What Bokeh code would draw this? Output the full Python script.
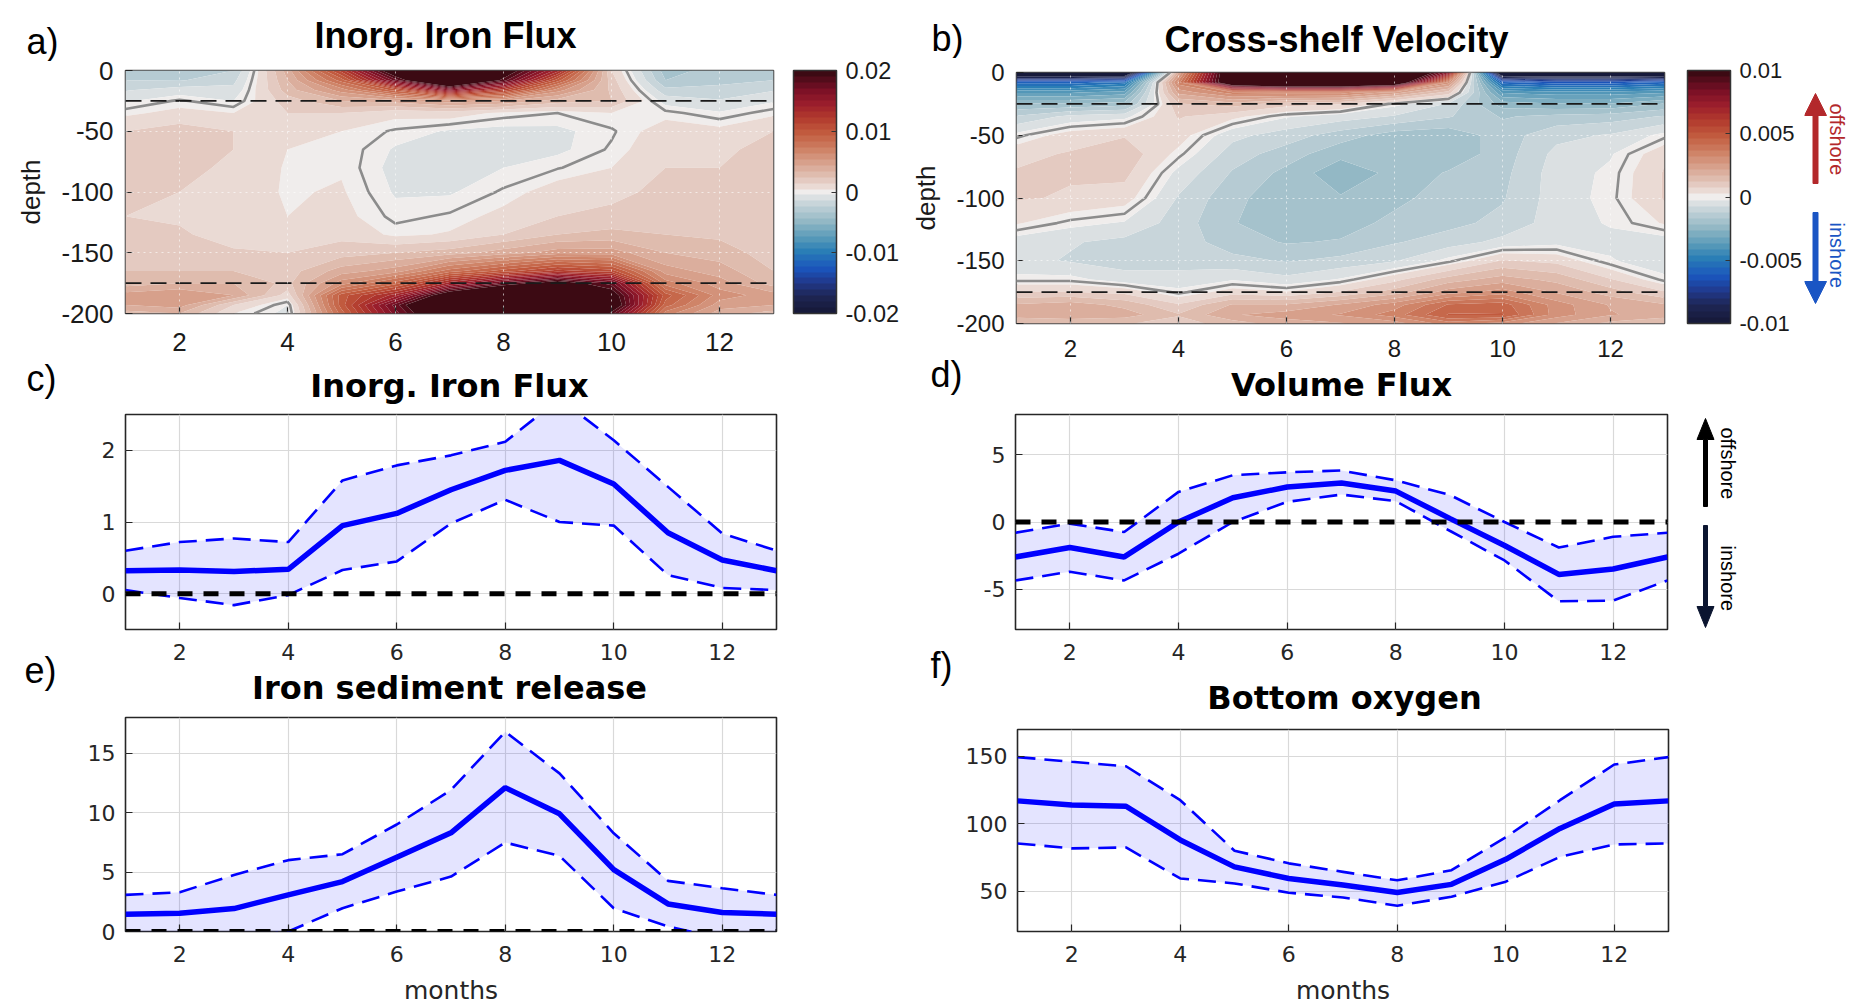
import numpy as np
from bokeh.plotting import figure
from bokeh.models import (ColorBar, LinearColorMapper, FixedTicker, PrintfTickFormatter,
                          Span, Range1d)
from bokeh.core.properties import value
from bokeh.layouts import row, column
from bokeh.embed import file_html
from bokeh.resources import INLINE

# ---------------- data ----------------
months = [1, 2, 3, 4, 5, 6, 7, 8, 9, 10, 11, 12, 13]
month_ticks = [2, 4, 6, 8, 10, 12]
depths = [0, -8, -16, -25, -35, -50, -65, -80, -100, -120, -135, -150, -165, -175, -185, -193, -200]
depth_ticks = [-200, -150, -100, -50, 0]
layer_depths = [-25, -175]

# a) inorganic iron flux section (x 1e-3); rows = depths, columns = months 1..13
iron_flux_section = [
    [-3.0, -3.0, -2.5, 4.0, 12.0, 22.0, 32.0, 21.5, 14.0, 1.5, -4.0, -3.0, -3.0],
    [-2.5, -2.6, -1.8, 3.5, 9.0, 18.0, 26.0, 19.0, 10.0, 2.0, -3.5, -2.8, -2.5],
    [-1.6, -1.0, -1.2, 3.0, 6.0, 10.0, 16.0, 12.0, 6.0, 2.3, -2.2, -2.2, -1.6],
    [-0.6, 0.1, -0.5, 2.0, 3.5, 4.0, 5.0, 4.5, 3.0, 2.5, -0.9, -1.4, -0.6],
    [0.3, 0.8, 0.5, 1.5, 1.5, 0.8, 1.0, 0.3, 0.0, 0.5, 0.2, -0.4, 0.3],
    [1.5, 2.0, 1.5, 1.0, 0.5, -0.1, -0.6, -0.8, -0.7, -0.1, 1.0, 0.8, 1.5],
    [2.0, 2.2, 1.5, 0.5, 0.4, -0.6, -0.9, -0.9, -0.7, 0.1, 1.3, 1.2, 2.0],
    [2.0, 1.8, 1.3, 0.4, 0.4, -0.8, -0.9, -0.5, -0.05, 0.5, 1.5, 1.5, 2.0],
    [1.6, 1.5, 1.0, 0.4, 0.6, -0.6, -0.6, 0.1, 1.0, 1.2, 1.8, 1.8, 1.6],
    [1.5, 1.4, 1.0, 0.5, 0.8, -0.2, 0.1, 0.8, 1.5, 1.8, 2.0, 2.0, 1.5],
    [1.8, 1.6, 1.2, 0.8, 1.2, 0.3, 0.6, 1.5, 2.5, 2.8, 2.5, 2.3, 1.8],
    [2.0, 1.8, 1.6, 1.5, 2.0, 2.5, 3.0, 4.0, 5.0, 5.0, 3.5, 3.0, 2.0],
    [2.5, 2.5, 2.5, 2.0, 4.0, 5.0, 8.0, 10.0, 12.0, 11.0, 5.0, 4.0, 2.5],
    [3.0, 3.5, 3.5, 2.2, 6.0, 9.0, 14.0, 18.0, 21.0, 18.0, 7.0, 5.0, 3.0],
    [5.0, 5.5, 4.5, 1.0, 10.0, 14.0, 22.0, 27.0, 30.0, 21.0, 10.0, 6.0, 5.0],
    [4.5, 5.0, 1.5, -0.5, 10.0, 18.0, 26.0, 32.0, 33.0, 22.0, 9.0, 5.0, 4.5],
    [3.0, 3.5, 0.5, -0.8, 9.0, 17.0, 24.0, 30.0, 30.0, 19.0, 7.0, 4.0, 3.0],
]

# b) cross-shelf velocity section (x 1e-3); rows = depths, columns = months 1..13
velocity_section = [
    [-12, -12, -12, 2.2, 12, 15, 15, 14, 8, -12, -12, -12, -12],
    [-6, -6, -5.5, 3.5, 12, 14, 14, 12, 3, -6, -6.5, -6.5, -6],
    [-3.8, -3.8, -3.5, 2.4, 3.5, 3.5, 3.5, 2.5, 1.0, -3.8, -4, -4, -3.8],
    [-2.2, -2.2, -2.0, 1.2, 1.5, 1.0, 0.8, -0.1, -0.8, -2.5, -2.7, -2.7, -2.2],
    [-1.2, -0.6, -0.4, 0.8, 0.4, -0.2, -0.5, -0.8, -1.2, -1.8, -1.6, -1.5, -1.2],
    [-0.1, 0.5, 0.7, 0.5, -0.6, -1.0, -1.5, -2.0, -2.1, -1.5, -0.9, -0.7, -0.1],
    [0.6, 0.8, 1.1, 0.1, -1.0, -1.5, -2.1, -2.2, -2.1, -1.5, -0.6, -0.3, 0.6],
    [0.8, 0.8, 0.9, -0.4, -1.3, -1.9, -2.6, -2.1, -1.7, -1.4, -0.5, -0.15, 0.8],
    [0.8, 0.7, 0.5, -0.8, -1.6, -2.1, -2.2, -1.9, -1.5, -1.3, -0.5, -0.1, 0.8],
    [0.3, -0.1, -0.3, -1.0, -1.7, -2.2, -2.0, -1.6, -1.4, -1.1, -0.5, -0.2, 0.3],
    [-0.5, -0.7, -0.9, -1.0, -1.5, -1.8, -1.7, -1.3, -1.0, -0.6, -0.4, -0.4, -0.5],
    [-0.6, -0.8, -1.0, -0.9, -1.1, -1.3, -1.1, -0.8, -0.1, 0.8, 0.6, -0.2, -0.6],
    [-0.1, -0.1, -0.5, -0.6, -0.3, -0.6, -0.2, 0.6, 1.5, 2.0, 1.6, 0.8, -0.1],
    [0.8, 0.8, 0.6, -0.1, 0.5, 0.3, 0.8, 1.5, 2.5, 3.0, 2.2, 1.5, 0.8],
    [1.8, 2.0, 1.6, 0.8, 1.8, 1.8, 2.3, 3.0, 4.3, 4.5, 3.0, 2.2, 1.8],
    [2.0, 2.0, 2.0, 1.3, 2.2, 2.5, 2.8, 3.5, 4.8, 4.8, 3.0, 2.3, 2.0],
    [1.3, 1.5, 1.3, 1.0, 1.5, 2.0, 2.2, 2.5, 3.5, 3.0, 2.2, 1.6, 1.3],
]
section_unit = 1e-3

# c) inorganic iron flux
iron_mean = [0.32, 0.33, 0.31, 0.34, 0.95, 1.12, 1.45, 1.72, 1.86, 1.53, 0.85, 0.47, 0.32]
iron_upper = [0.60, 0.72, 0.77, 0.72, 1.58, 1.79, 1.93, 2.12, 2.72, 2.14, 1.49, 0.84, 0.60]
iron_lower = [0.05, -0.06, -0.16, -0.02, 0.33, 0.45, 0.98, 1.31, 1.00, 0.95, 0.26, 0.08, 0.05]
# d) volume flux
vol_mean = [-2.6, -1.9, -2.6, 0.0, 1.8, 2.6, 2.9, 2.3, 0.25, -1.75, -3.9, -3.5, -2.6]
vol_upper = [-0.8, -0.12, -0.75, 2.24, 3.48, 3.7, 3.83, 3.1, 2.0, 0.0, -1.9, -1.1, -0.8]
vol_lower = [-4.35, -3.7, -4.35, -2.36, 0.0, 1.5, 2.04, 1.55, -0.67, -2.86, -5.9, -5.85, -4.35]
# e) iron sediment release
sed_mean = [1.46, 1.54, 1.93, 3.08, 4.2, 6.25, 8.3, 12.1, 9.9, 5.2, 2.32, 1.6, 1.46]
sed_upper = [3.08, 3.3, 4.76, 6.0, 6.5, 9.0, 11.9, 16.8, 13.3, 8.26, 4.26, 3.64, 3.08]
sed_lower = [-0.2, -0.2, -0.6, 0.0, 1.96, 3.36, 4.62, 7.48, 6.36, 1.96, 0.42, -0.6, -0.2]
# f) bottom oxygen
oxy_mean = [117, 114, 113, 88, 68, 59.4, 54.5, 49, 55, 73.6, 96.5, 114.6, 117]
oxy_upper = [149.5, 146, 142.7, 117.5, 80, 70.6, 64.3, 58, 65.5, 90, 117.5, 144, 149.5]
oxy_lower = [85.4, 81.7, 82.4, 59.4, 55.7, 48.8, 45.3, 39.1, 45.8, 57, 75.4, 84.6, 85.4]

# ---------------- styling ----------------
SANS = "Liberation Sans"
DJV = "DejaVu Sans"
BLUE = "#0000ff"
RED_TXT = "#b3282b"
BLUE_TXT = "#1a55c4"

cmap_anchors = [
    (0.000, "#171a3b"), (0.060, "#1e2654"), (0.120, "#213a8e"), (0.180, "#1a55bd"),
    (0.250, "#2a7eb6"), (0.310, "#5b9cb9"), (0.375, "#93b8c5"), (0.440, "#c1d1d7"),
    (0.480, "#dfe2e3"), (0.500, "#f0edec"), (0.520, "#ebddd8"), (0.560, "#e2c4b9"),
    (0.625, "#d7a08b"), (0.690, "#cc7b5e"), (0.750, "#c15a3e"), (0.810, "#b23a2d"),
    (0.870, "#9c1e2c"), (0.930, "#7a1026"), (1.000, "#3c0a13"),
]


def cmap_palette(n):
    ts = np.array([a[0] for a in cmap_anchors])
    rgb = np.array([[int(h[i:i + 2], 16) for i in (1, 3, 5)] for _, h in cmap_anchors], float)
    out = []
    for t in np.linspace(0, 1, n):
        c = [int(round(np.interp(t, ts, rgb[:, k]))) for k in range(3)]
        out.append("#%02x%02x%02x" % tuple(c))
    return out


PAL = cmap_palette(41)


# ---------- text / arrow strips (pixel coordinates, measured from the strip's top) ----------
def strip(width, height):
    p = figure(width=width, height=height, x_range=Range1d(0, width), y_range=Range1d(0, height),
               output_backend="svg", toolbar_location=None, min_border=0,
               x_axis_type=None, y_axis_type=None, frame_align=False)
    p.outline_line_color = None
    return p


def put_text(p, x, baseline, text, font, size, bold=False, align="left", color="black"):
    # anchor at the middle of the em box, placed from the wanted baseline
    ymid = baseline - 0.347 * size
    p.text(x=[x], y=[p.height - ymid], text=[text], text_font=value(font),
           text_font_size=f"{size}px", text_font_style="bold" if bold else "normal",
           text_align=align, text_baseline="middle", text_color=color)


def put_vtext(p, xc, y_start, text, font, size, color="black"):
    p.text(x=[xc], y=[p.height - y_start], text=[text], text_font=value(font),
           text_font_size=f"{size}px", text_align="left", text_baseline="middle",
           text_color=color, angle=-np.pi / 2)


def put_arrow(p, x, tail, tip, head_len, head_w, shaft_w, color):
    s = 1 if tip > tail else -1
    base = tip - s * head_len
    xs = [x - shaft_w / 2, x - shaft_w / 2, x - head_w / 2, x, x + head_w / 2,
          x + shaft_w / 2, x + shaft_w / 2]
    ys = [p.height - v for v in (tail, base, base, tip, base, base, tail)]
    p.patch(xs, ys, fill_color=color, line_color=color, line_width=1)


def style_axes(p, font, size, color, xstand, ystand):
    for ax in (p.xaxis[0], p.yaxis[0]):
        ax.major_tick_in = 7
        ax.major_tick_out = 0
        ax.minor_tick_line_color = None
        ax.axis_line_color = None
        ax.major_tick_line_color = "#262626"
        ax.major_tick_line_width = 1.2
        ax.major_label_text_font = font
        ax.major_label_text_font_size = f"{size}px"
        ax.major_label_text_color = color
    p.xaxis[0].major_label_standoff = xstand
    p.yaxis[0].major_label_standoff = ystand
    p.yaxis[0].formatter = PrintfTickFormatter(format="%d")


def section_panel(table, vmax, width, height, left, right, top, bottom, tick_size, cb_size,
                  cb_ticks, cb_left, xstand):
    p = figure(width=width, height=height, x_range=Range1d(1, 13), y_range=Range1d(-200, 0),
               output_backend="svg", toolbar_location=None, frame_align=False,
               min_border_left=left, min_border_right=right, min_border_top=top,
               min_border_bottom=bottom)
    x = np.array(months, float)
    y = np.array(depths[::-1], float)
    z = np.array(table, float)[::-1, :] * section_unit
    step = 2 * vmax / 40
    levels = [-1.0] + [(k + 0.5) * step for k in range(-20, 20)] + [1.0]
    p.contour(x, y, z, levels, fill_color=PAL, line_color=None)
    p.contour(x, y, z, [0.0], line_color="#8c8c8c", line_width=2.6)
    for d in layer_depths:
        p.add_layout(Span(location=d, dimension="width", line_color="#1a1a1a",
                          line_dash="16 9", line_width=1.8))
    p.xaxis.ticker = FixedTicker(ticks=month_ticks)
    p.yaxis.ticker = FixedTicker(ticks=depth_ticks)
    style_axes(p, SANS, tick_size, "#1a1a1a", xstand, 12)
    p.yaxis.axis_label = "depth"
    p.yaxis.axis_label_text_font = SANS
    p.yaxis.axis_label_text_font_size = "26px"
    p.yaxis.axis_label_text_font_style = "normal"
    p.yaxis.axis_label_text_color = "#1a1a1a"
    p.yaxis.axis_label_standoff = 12
    p.grid.grid_line_color = "#ffffff"
    p.grid.grid_line_alpha = 0.6
    p.grid.grid_line_dash = "2 4"
    p.grid.level = "overlay"
    p.outline_line_color = "#4d4d4d"
    p.outline_line_width = 1.6
    mapper = LinearColorMapper(palette=PAL, low=-vmax, high=vmax)
    cb = ColorBar(color_mapper=mapper, ticker=FixedTicker(ticks=cb_ticks),
                  formatter=PrintfTickFormatter(format="%g"), width=43,
                  height=height - top - bottom, padding=0, margin=0,
                  location=(cb_left, 0), label_standoff=9,
                  major_label_text_font=SANS, major_label_text_font_size=f"{cb_size}px",
                  major_label_text_color="#1a1a1a", major_tick_line_color="#333333",
                  major_tick_in=5, major_tick_out=0, minor_tick_line_color=None,
                  bar_line_color="#333333", bar_line_width=1.5, background_fill_alpha=0)
    p.add_layout(cb, "right")
    return p


def line_panel(mean, lower, upper, yr, yticks, width, height, left, right, top, bottom,
               zero_line=True, xlabel=False):
    p = figure(width=width, height=height, x_range=Range1d(1, 13), y_range=Range1d(*yr),
               output_backend="svg", toolbar_location=None, frame_align=False,
               min_border_left=left, min_border_right=right, min_border_top=top,
               min_border_bottom=bottom)
    p.varea(x=months, y1=lower, y2=upper, fill_color=BLUE, fill_alpha=0.105)
    p.line(months, upper, line_color=BLUE, line_width=2.6, line_dash="18 9")
    p.line(months, lower, line_color=BLUE, line_width=2.6, line_dash="18 9")
    if zero_line:
        p.add_layout(Span(location=0, dimension="width", line_color="black",
                          line_width=5, line_dash="15 11"))
    p.line(months, mean, line_color=BLUE, line_width=5.5)
    p.xaxis.ticker = FixedTicker(ticks=month_ticks)
    p.yaxis.ticker = FixedTicker(ticks=yticks)
    style_axes(p, DJV, 22, "#262626", 14, 10)
    p.grid.grid_line_color = "#d9d9d9"
    p.grid.grid_line_width = 1.2
    p.outline_line_color = "#262626"
    p.outline_line_width = 1.6
    if xlabel:
        p.xaxis.axis_label = "months"
        p.xaxis.axis_label_text_font = DJV
        p.xaxis.axis_label_text_font_size = "25px"
        p.xaxis.axis_label_text_font_style = "normal"
        p.xaxis.axis_label_text_color = "#262626"
        p.xaxis.axis_label_standoff = 11
    return p


# ---------------- left column ----------------
sa = strip(905, 61)
put_text(sa, 26, 53, "a)", SANS, 36)
put_text(sa, 445, 47, "Inorg. Iron Flux", SANS, 36, bold=True, align="center")
pa = section_panel(iron_flux_section, 0.02, 905, 301, 125, 132, 9, 49, 26, 23.5,
                   [-0.02, -0.01, 0, 0.01, 0.02], 20, 19)

sc = strip(905, 51)
put_text(sc, 26, 28, "c)", SANS, 36)
put_text(sc, 449, 35, "Inorg. Iron Flux", DJV, 32, bold=True, align="center")

le = strip(62, 594)                      # letter strip left of c/e panels (x 0-62, y 413-1007)
put_text(le, 24, 269, "e)", SANS, 36)

pc = line_panel(iron_mean, iron_lower, iron_upper, (-0.5, 2.5), [0, 1, 2],
                843, 256, 63, 129, 1, 40)
se = strip(843, 47)
put_text(se, 387, 30, "Iron sediment release", DJV, 32, bold=True, align="center")
pe = line_panel(sed_mean, sed_lower, sed_upper, (0, 18), [0, 5, 10, 15],
                843, 291, 63, 129, 1, 75, xlabel=True)

# ---------------- right column ----------------
sb = strip(955, 58)
put_text(sb, 26, 50, "b)", SANS, 36)
put_text(sb, 431, 51, "Cross-shelf Velocity", SANS, 36, bold=True, align="center")
pb = section_panel(velocity_section, 0.01, 899, 301, 111, 138, 14, 34, 24, 22,
                   [-0.01, -0.005, 0, 0.005, 0.01], 23, 16)
ab = strip(56, 301)
put_arrow(ab, 11, 125, 35, 22, 22, 5, RED_TXT)
put_arrow(ab, 11, 154, 245, 22, 22, 5, BLUE_TXT)
put_vtext(ab, 32, 45, "offshore", SANS, 20, color=RED_TXT)
put_vtext(ab, 32, 164, "inshore", SANS, 20, color=BLUE_TXT)

sd = strip(955, 54)
put_text(sd, 25, 27, "d)", SANS, 36)
put_text(sd, 436, 37, "Volume Flux", DJV, 32, bold=True, align="center")

lf = strip(57, 594)                      # letter strip left of d/f panels (x 905-962, y 413-1007)
put_text(lf, 25, 264, "f)", SANS, 36)

pd = line_panel(vol_mean, vol_lower, vol_upper, (-8, 8), [-5, 0, 5],
                728, 256, 53, 23, 1, 40)
ad = strip(170, 256)
put_arrow(ad, 15, 93, 5, 21, 17, 4, "#000000")
put_arrow(ad, 15, 112, 214, 21, 17, 4, "#0b1530")
put_vtext(ad, 37, 14, "offshore", SANS, 20)
put_vtext(ad, 37, 132, "inshore", SANS, 20)

sf = strip(898, 59)
put_text(sf, 382, 40, "Bottom oxygen", DJV, 32, bold=True, align="center")
pf = line_panel(oxy_mean, oxy_lower, oxy_upper, (20, 170), [50, 100, 150],
                898, 279, 55, 192, 1, 75, zero_line=False, xlabel=True)

layout = row(
    column(sa, pa, sc, row(le, column(pc, se, pe))),
    column(sb, row(pb, ab), sd, row(lf, column(row(pd, ad), sf, pf))),
)

with open("out.html", "w") as f:
    f.write(file_html(layout, INLINE))
